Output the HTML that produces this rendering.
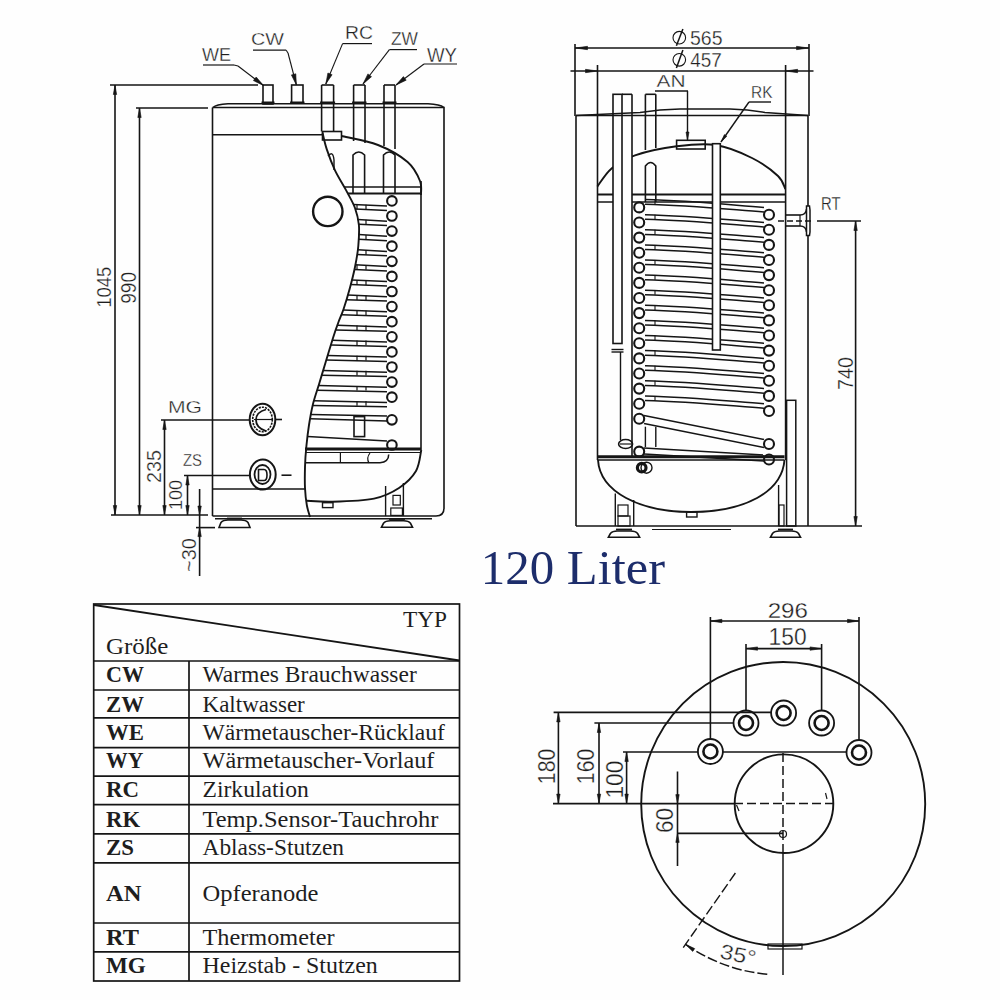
<!DOCTYPE html>
<html><head><meta charset="utf-8"><style>
html,body{margin:0;padding:0;background:#fff;width:1000px;height:1000px;overflow:hidden}
svg{display:block}
</style></head><body>
<svg width="1000" height="1000" viewBox="0 0 1000 1000" stroke-linecap="butt">
<rect width="1000" height="1000" fill="#fefefe"/>
<line x1="110" y1="85" x2="258" y2="85" stroke="#151515" stroke-width="1.6"/>
<line x1="115" y1="85" x2="115" y2="515" stroke="#151515" stroke-width="1.6"/>
<path d="M115,85.5 L116.7,94.5 L113.3,94.5 Z" fill="#151515" stroke="#151515" stroke-width="0.6"/>
<path d="M115,514.5 L113.3,505.5 L116.7,505.5 Z" fill="#151515" stroke="#151515" stroke-width="0.6"/>
<line x1="136" y1="108" x2="208" y2="108" stroke="#151515" stroke-width="1.6"/>
<line x1="139.5" y1="108" x2="139.5" y2="515" stroke="#151515" stroke-width="1.6"/>
<path d="M139.5,108.5 L141.2,117.5 L137.8,117.5 Z" fill="#151515" stroke="#151515" stroke-width="0.6"/>
<path d="M139.5,514.5 L137.8,505.5 L141.2,505.5 Z" fill="#151515" stroke="#151515" stroke-width="0.6"/>
<line x1="111" y1="515" x2="208" y2="515" stroke="#151515" stroke-width="1.6"/>
<line x1="161" y1="420" x2="250" y2="420" stroke="#151515" stroke-width="1.6"/>
<line x1="164.5" y1="420" x2="164.5" y2="515" stroke="#151515" stroke-width="1.6"/>
<path d="M164.5,420.5 L166.2,429.5 L162.8,429.5 Z" fill="#151515" stroke="#151515" stroke-width="0.6"/>
<path d="M164.5,514.5 L162.8,505.5 L166.2,505.5 Z" fill="#151515" stroke="#151515" stroke-width="0.6"/>
<line x1="184" y1="475.5" x2="250" y2="475.5" stroke="#151515" stroke-width="1.6"/>
<line x1="187.5" y1="475.5" x2="187.5" y2="515" stroke="#151515" stroke-width="1.6"/>
<path d="M187.5,476 L189.2,485 L185.8,485 Z" fill="#151515" stroke="#151515" stroke-width="0.6"/>
<path d="M187.5,514.5 L185.8,505.5 L189.2,505.5 Z" fill="#151515" stroke="#151515" stroke-width="0.6"/>
<line x1="199.6" y1="489" x2="199.6" y2="576" stroke="#151515" stroke-width="1.6"/>
<path d="M199.6,515 L197.9,506 L201.3,506 Z" fill="#151515" stroke="#151515" stroke-width="0.6"/>
<path d="M199.6,527.6 L201.3,536.6 L197.9,536.6 Z" fill="#151515" stroke="#151515" stroke-width="0.6"/>
<line x1="196" y1="527.6" x2="215" y2="527.6" stroke="#151515" stroke-width="1.6"/>
<line x1="275.5" y1="419.5" x2="282" y2="419.5" stroke="#151515" stroke-width="1.6"/>
<line x1="281.5" y1="475.2" x2="291.5" y2="475.2" stroke="#151515" stroke-width="1.6"/>
<text transform="translate(110.8,307.8) rotate(-90)" x="0" y="0" font-family='"Liberation Sans", sans-serif' font-size="20.1" fill="#1e1e1e" stroke="#fefefe" stroke-width="0.3" textLength="41.2" lengthAdjust="spacingAndGlyphs">1045</text>
<text transform="translate(136.4,303.8) rotate(-90)" x="0" y="0" font-family='"Liberation Sans", sans-serif' font-size="21.5" fill="#1e1e1e" stroke="#fefefe" stroke-width="0.3" textLength="31.8" lengthAdjust="spacingAndGlyphs">990</text>
<text transform="translate(161,483) rotate(-90)" x="0" y="0" font-family='"Liberation Sans", sans-serif' font-size="19.6" fill="#1e1e1e" stroke="#fefefe" stroke-width="0.3" textLength="33" lengthAdjust="spacingAndGlyphs">235</text>
<text transform="translate(182,510) rotate(-90)" x="0" y="0" font-family='"Liberation Sans", sans-serif' font-size="18.2" fill="#1e1e1e" stroke="#fefefe" stroke-width="0.3" textLength="30" lengthAdjust="spacingAndGlyphs">100</text>
<text transform="translate(196,572) rotate(-90)" x="0" y="0" font-family='"Liberation Sans", sans-serif' font-size="19.6" fill="#1e1e1e" stroke="#fefefe" stroke-width="0.3" textLength="34" lengthAdjust="spacingAndGlyphs">~30</text>
<text x="168" y="413" font-family='"Liberation Sans", sans-serif' font-size="16.8" font-weight="normal" fill="#1e1e1e" textLength="34" lengthAdjust="spacingAndGlyphs" stroke="#fefefe" stroke-width="0.3">MG</text>
<text x="183" y="466" font-family='"Liberation Sans", sans-serif' font-size="16.8" font-weight="normal" fill="#1e1e1e" textLength="19" lengthAdjust="spacingAndGlyphs" stroke="#fefefe" stroke-width="0.3">ZS</text>
<text x="202" y="61" font-family='"Liberation Sans", sans-serif' font-size="18.2" font-weight="normal" fill="#1e1e1e" textLength="29" lengthAdjust="spacingAndGlyphs" stroke="#fefefe" stroke-width="0.3">WE</text>
<text x="251" y="45" font-family='"Liberation Sans", sans-serif' font-size="16.8" font-weight="normal" fill="#1e1e1e" textLength="33" lengthAdjust="spacingAndGlyphs" stroke="#fefefe" stroke-width="0.3">CW</text>
<text x="345" y="39" font-family='"Liberation Sans", sans-serif' font-size="18.2" font-weight="normal" fill="#1e1e1e" textLength="28" lengthAdjust="spacingAndGlyphs" stroke="#fefefe" stroke-width="0.3">RC</text>
<text x="391" y="45" font-family='"Liberation Sans", sans-serif' font-size="18.2" font-weight="normal" fill="#1e1e1e" textLength="27" lengthAdjust="spacingAndGlyphs" stroke="#fefefe" stroke-width="0.3">ZW</text>
<text x="427" y="62" font-family='"Liberation Sans", sans-serif' font-size="19.6" font-weight="normal" fill="#1e1e1e" textLength="30" lengthAdjust="spacingAndGlyphs" stroke="#fefefe" stroke-width="0.3">WY</text>
<line x1="203" y1="65" x2="234" y2="65" stroke="#151515" stroke-width="1.2"/>
<line x1="234" y1="65" x2="238" y2="66" stroke="#151515" stroke-width="1.1"/>
<line x1="238" y1="66" x2="263.5" y2="85.5" stroke="#151515" stroke-width="1.1"/>
<path d="M263.5,85.5 L253.4,80.6 L256.2,77 Z" fill="#151515" stroke="#151515" stroke-width="0.6"/>
<line x1="253" y1="50.2" x2="286.2" y2="50.2" stroke="#151515" stroke-width="1.2"/>
<line x1="286.2" y1="50.2" x2="288" y2="53" stroke="#151515" stroke-width="1.1"/>
<line x1="288" y1="53" x2="296.4" y2="85" stroke="#151515" stroke-width="1.1"/>
<path d="M296.4,85 L291.4,74.9 L295.8,73.8 Z" fill="#151515" stroke="#151515" stroke-width="0.6"/>
<line x1="342.6" y1="43.6" x2="372" y2="43.6" stroke="#151515" stroke-width="1.2"/>
<line x1="342.6" y1="43.6" x2="342.6" y2="43.6" stroke="#151515" stroke-width="1.1"/>
<line x1="342.6" y1="43.6" x2="325.8" y2="84" stroke="#151515" stroke-width="1.1"/>
<path d="M325.8,84 L327.9,73 L332.1,74.7 Z" fill="#151515" stroke="#151515" stroke-width="0.6"/>
<line x1="389.4" y1="49.6" x2="417" y2="49.6" stroke="#151515" stroke-width="1.2"/>
<line x1="389.4" y1="49.6" x2="389.4" y2="49.6" stroke="#151515" stroke-width="1.1"/>
<line x1="389.4" y1="49.6" x2="363" y2="84" stroke="#151515" stroke-width="1.1"/>
<path d="M363,84 L367.9,73.9 L371.5,76.7 Z" fill="#151515" stroke="#151515" stroke-width="0.6"/>
<line x1="424" y1="64" x2="457" y2="64" stroke="#151515" stroke-width="1.2"/>
<line x1="424" y1="64" x2="424" y2="64" stroke="#151515" stroke-width="1.1"/>
<line x1="424" y1="64" x2="396" y2="85" stroke="#151515" stroke-width="1.1"/>
<path d="M396,85 L403.4,76.6 L406.2,80.2 Z" fill="#151515" stroke="#151515" stroke-width="0.6"/>
<rect x="263" y="85" width="10" height="19" fill="none" stroke="#151515" stroke-width="1.6"/>
<rect x="291.6" y="85" width="11.4" height="18" fill="none" stroke="#151515" stroke-width="1.6"/>
<line x1="321.6" y1="85" x2="333.6" y2="85" stroke="#151515" stroke-width="1.6"/>
<line x1="321.6" y1="85" x2="321.6" y2="131.5" stroke="#151515" stroke-width="1.6"/>
<line x1="333.6" y1="85" x2="333.6" y2="131.5" stroke="#151515" stroke-width="1.6"/>
<line x1="353.6" y1="85" x2="365" y2="85" stroke="#151515" stroke-width="1.6"/>
<line x1="353.6" y1="85" x2="353.6" y2="141" stroke="#151515" stroke-width="1.6"/>
<line x1="365" y1="85" x2="365" y2="143" stroke="#151515" stroke-width="1.6"/>
<line x1="384" y1="85" x2="395" y2="85" stroke="#151515" stroke-width="1.6"/>
<line x1="384" y1="85" x2="384" y2="146" stroke="#151515" stroke-width="1.6"/>
<line x1="395" y1="85" x2="395" y2="149" stroke="#151515" stroke-width="1.6"/>
<line x1="212.5" y1="107.5" x2="212.5" y2="516" stroke="#151515" stroke-width="1.6"/>
<path d="M212.5,107.5 L444,107.5 L444,508 Q444,516 436,516 L212.5,516" fill="none" stroke="#151515" stroke-width="1.6"/>
<path d="M213,107.5 Q216,104.5 228,103.8 L428,103.8 Q440,104.3 444,107.5" fill="none" stroke="#151515" stroke-width="1.4"/>
<line x1="261.5" y1="102.6" x2="274.5" y2="102.6" stroke="#151515" stroke-width="2.2"/>
<line x1="290.1" y1="102.6" x2="304.5" y2="102.6" stroke="#151515" stroke-width="2.2"/>
<line x1="320.1" y1="102.6" x2="335.1" y2="102.6" stroke="#151515" stroke-width="2.2"/>
<line x1="352.1" y1="102.6" x2="366.5" y2="102.6" stroke="#151515" stroke-width="2.2"/>
<line x1="382.5" y1="102.6" x2="396.5" y2="102.6" stroke="#151515" stroke-width="2.2"/>
<line x1="212.5" y1="134.7" x2="322.5" y2="134.7" stroke="#151515" stroke-width="1.6"/>
<rect x="322.5" y="131.5" width="19" height="8.5" fill="none" stroke="#151515" stroke-width="1.6"/>
<path d="M322.5,132.6 C323.2,135.4 324.7,143.1 326.8,149.4 C328.9,155.7 331.7,163.4 335,170.4 C338.3,177.4 343.4,185.1 346.7,191.4 C350,197.7 353,202.4 355,208 C357,213.6 358.3,218.7 358.9,225 C359.4,231.3 358.9,239 358.3,246 C357.7,253 356.4,260 355,267 C353.6,274 351.8,281 349.9,288 C348,295 345.5,303.3 343.6,309 C341.7,314.7 340.3,317.2 338.5,322 C336.7,326.8 335.1,331.3 333,338 C330.9,344.7 328,354.5 325.7,362 C323.4,369.5 321.5,376 319.4,383 C317.3,390 314.7,397 313,404 C311.3,411 310.1,418 309,425 C307.9,432 307.1,439 306.4,446 C305.7,453 305.2,460 305,467 C304.8,474 304.7,481.7 305,488 C305.3,494.3 306,500.2 306.8,505 C307.6,509.8 309.5,515 310,517" fill="none" stroke="#151515" stroke-width="1.9"/>
<path d="M341.5,136 C347.6,137.5 367,140.7 378,145 C389,149.3 400.6,156 407.6,162 C414.6,168 417.8,175.5 420,181 C422.2,186.5 420.8,192.7 421,195" fill="none" stroke="#151515" stroke-width="1.9"/>
<line x1="421" y1="181" x2="421" y2="450" stroke="#151515" stroke-width="1.6"/>
<line x1="344.2" y1="187" x2="421" y2="187" stroke="#151515" stroke-width="1.6"/>
<line x1="347.8" y1="193.5" x2="421" y2="193.5" stroke="#151515" stroke-width="2"/>
<path d="M353,193 L353,155 Q358.8,149 364.6,155 L364.6,193" fill="none" stroke="#151515" stroke-width="1.6"/>
<path d="M383.5,193 L383.5,155 Q389.2,149 395,155 L395,193" fill="none" stroke="#151515" stroke-width="1.6"/>
<path d="M328,156 Q333,150 334,160 L334,170" fill="none" stroke="#151515" stroke-width="1.4"/>
<circle cx="327.8" cy="211.4" r="14.7" fill="none" stroke="#151515" stroke-width="2.4"/>
<circle cx="391.9" cy="200.9" r="4.8" fill="none" stroke="#151515" stroke-width="2.1"/>
<circle cx="391.9" cy="216" r="4.8" fill="none" stroke="#151515" stroke-width="2.1"/>
<circle cx="391.9" cy="231.1" r="4.8" fill="none" stroke="#151515" stroke-width="2.1"/>
<circle cx="391.9" cy="246.2" r="4.8" fill="none" stroke="#151515" stroke-width="2.1"/>
<circle cx="391.9" cy="261.3" r="4.8" fill="none" stroke="#151515" stroke-width="2.1"/>
<circle cx="391.9" cy="276.4" r="4.8" fill="none" stroke="#151515" stroke-width="2.1"/>
<circle cx="391.9" cy="291.5" r="4.8" fill="none" stroke="#151515" stroke-width="2.1"/>
<circle cx="391.9" cy="306.6" r="4.8" fill="none" stroke="#151515" stroke-width="2.1"/>
<circle cx="391.9" cy="321.7" r="4.8" fill="none" stroke="#151515" stroke-width="2.1"/>
<circle cx="391.9" cy="336.8" r="4.8" fill="none" stroke="#151515" stroke-width="2.1"/>
<circle cx="391.9" cy="351.9" r="4.8" fill="none" stroke="#151515" stroke-width="2.1"/>
<circle cx="391.9" cy="367" r="4.8" fill="none" stroke="#151515" stroke-width="2.1"/>
<circle cx="391.9" cy="382.1" r="4.8" fill="none" stroke="#151515" stroke-width="2.1"/>
<circle cx="391.9" cy="397.2" r="4.8" fill="none" stroke="#151515" stroke-width="2.1"/>
<circle cx="391.9" cy="419.8" r="4.8" fill="none" stroke="#151515" stroke-width="2.1"/>
<circle cx="391.9" cy="445" r="4.8" fill="none" stroke="#151515" stroke-width="2.1"/>
<line x1="311" y1="414.5" x2="387" y2="416" stroke="#151515" stroke-width="1.5"/>
<line x1="310.2" y1="418.7" x2="387" y2="421" stroke="#151515" stroke-width="1.5"/>
<line x1="307.6" y1="436.6" x2="387" y2="441" stroke="#151515" stroke-width="1.5"/>
<line x1="353.2" y1="204.4" x2="387" y2="206.1" stroke="#151515" stroke-width="1.5"/>
<line x1="355.3" y1="209.1" x2="387" y2="210.5" stroke="#151515" stroke-width="1.5"/>
<line x1="357" y1="204.7" x2="357" y2="209.4" stroke="#151515" stroke-width="1.2"/>
<line x1="366" y1="204.7" x2="366" y2="209.4" stroke="#151515" stroke-width="1.2"/>
<line x1="357.6" y1="219.5" x2="387" y2="221.2" stroke="#151515" stroke-width="1.5"/>
<line x1="358.7" y1="224.2" x2="387" y2="225.6" stroke="#151515" stroke-width="1.5"/>
<line x1="366" y1="219.8" x2="366" y2="224.5" stroke="#151515" stroke-width="1.2"/>
<line x1="358.6" y1="234.6" x2="387" y2="236.3" stroke="#151515" stroke-width="1.5"/>
<line x1="358.5" y1="239.3" x2="387" y2="240.7" stroke="#151515" stroke-width="1.5"/>
<line x1="366" y1="234.9" x2="366" y2="239.6" stroke="#151515" stroke-width="1.2"/>
<line x1="357.7" y1="249.7" x2="387" y2="251.4" stroke="#151515" stroke-width="1.5"/>
<line x1="357" y1="254.4" x2="387" y2="255.8" stroke="#151515" stroke-width="1.5"/>
<line x1="366" y1="250" x2="366" y2="254.7" stroke="#151515" stroke-width="1.2"/>
<line x1="355.3" y1="264.8" x2="387" y2="266.5" stroke="#151515" stroke-width="1.5"/>
<line x1="354.4" y1="269.5" x2="387" y2="270.9" stroke="#151515" stroke-width="1.5"/>
<line x1="357" y1="265.1" x2="357" y2="269.8" stroke="#151515" stroke-width="1.2"/>
<line x1="366" y1="265.1" x2="366" y2="269.8" stroke="#151515" stroke-width="1.2"/>
<line x1="351.9" y1="279.9" x2="387" y2="281.6" stroke="#151515" stroke-width="1.5"/>
<line x1="350.7" y1="284.6" x2="387" y2="286" stroke="#151515" stroke-width="1.5"/>
<line x1="357" y1="280.2" x2="357" y2="284.9" stroke="#151515" stroke-width="1.2"/>
<line x1="366" y1="280.2" x2="366" y2="284.9" stroke="#151515" stroke-width="1.2"/>
<line x1="347.8" y1="295" x2="387" y2="296.7" stroke="#151515" stroke-width="1.5"/>
<line x1="346.4" y1="299.7" x2="387" y2="301.1" stroke="#151515" stroke-width="1.5"/>
<line x1="357" y1="295.3" x2="357" y2="300" stroke="#151515" stroke-width="1.2"/>
<line x1="366" y1="295.3" x2="366" y2="300" stroke="#151515" stroke-width="1.2"/>
<line x1="343.2" y1="310.1" x2="387" y2="311.8" stroke="#151515" stroke-width="1.5"/>
<line x1="341.3" y1="314.8" x2="387" y2="316.2" stroke="#151515" stroke-width="1.5"/>
<line x1="357" y1="310.4" x2="357" y2="315.1" stroke="#151515" stroke-width="1.2"/>
<line x1="366" y1="310.4" x2="366" y2="315.1" stroke="#151515" stroke-width="1.2"/>
<line x1="337.4" y1="325.2" x2="387" y2="326.9" stroke="#151515" stroke-width="1.5"/>
<line x1="335.8" y1="329.9" x2="387" y2="331.3" stroke="#151515" stroke-width="1.5"/>
<line x1="357" y1="325.5" x2="357" y2="330.2" stroke="#151515" stroke-width="1.2"/>
<line x1="366" y1="325.5" x2="366" y2="330.2" stroke="#151515" stroke-width="1.2"/>
<line x1="332.3" y1="340.3" x2="387" y2="342" stroke="#151515" stroke-width="1.5"/>
<line x1="330.9" y1="345" x2="387" y2="346.4" stroke="#151515" stroke-width="1.5"/>
<line x1="357" y1="340.6" x2="357" y2="345.3" stroke="#151515" stroke-width="1.2"/>
<line x1="366" y1="340.6" x2="366" y2="345.3" stroke="#151515" stroke-width="1.2"/>
<line x1="327.7" y1="355.4" x2="387" y2="357.1" stroke="#151515" stroke-width="1.5"/>
<line x1="326.3" y1="360.1" x2="387" y2="361.5" stroke="#151515" stroke-width="1.5"/>
<line x1="357" y1="355.7" x2="357" y2="360.4" stroke="#151515" stroke-width="1.2"/>
<line x1="366" y1="355.7" x2="366" y2="360.4" stroke="#151515" stroke-width="1.2"/>
<line x1="323.1" y1="370.5" x2="387" y2="372.2" stroke="#151515" stroke-width="1.5"/>
<line x1="321.7" y1="375.2" x2="387" y2="376.6" stroke="#151515" stroke-width="1.5"/>
<line x1="357" y1="370.8" x2="357" y2="375.5" stroke="#151515" stroke-width="1.2"/>
<line x1="366" y1="370.8" x2="366" y2="375.5" stroke="#151515" stroke-width="1.2"/>
<line x1="318.6" y1="385.6" x2="387" y2="387.3" stroke="#151515" stroke-width="1.5"/>
<line x1="317.2" y1="390.3" x2="387" y2="391.7" stroke="#151515" stroke-width="1.5"/>
<line x1="357" y1="385.9" x2="357" y2="390.6" stroke="#151515" stroke-width="1.2"/>
<line x1="366" y1="385.9" x2="366" y2="390.6" stroke="#151515" stroke-width="1.2"/>
<line x1="314" y1="400.7" x2="387" y2="402.4" stroke="#151515" stroke-width="1.5"/>
<line x1="312.7" y1="405.4" x2="387" y2="406.8" stroke="#151515" stroke-width="1.5"/>
<line x1="357" y1="401" x2="357" y2="405.7" stroke="#151515" stroke-width="1.2"/>
<line x1="366" y1="401" x2="366" y2="405.7" stroke="#151515" stroke-width="1.2"/>
<rect x="354" y="416.6" width="10.6" height="20" fill="none" stroke="#151515" stroke-width="1.6"/>
<line x1="305" y1="449" x2="421" y2="449" stroke="#151515" stroke-width="2.8"/>
<line x1="305" y1="452.5" x2="421" y2="452.5" stroke="#151515" stroke-width="1.2"/>
<path d="M305,462.8 L380,462.8 Q388.7,462 388.7,454.5" fill="none" stroke="#151515" stroke-width="1.5"/>
<line x1="340.4" y1="453" x2="340.4" y2="463" stroke="#151515" stroke-width="1.2"/>
<path d="M370,453 Q366,458 369,463" fill="none" stroke="#151515" stroke-width="1.2"/>
<path d="M421.3,450 C420.4,453.5 419.7,464.7 416,471 C412.3,477.3 406,483.4 399,488 C392,492.6 385.2,496.3 374,498.6 C362.8,500.9 343.2,501.4 332,501.7 C320.8,502 311,500.9 306.8,500.7" fill="none" stroke="#151515" stroke-width="1.9"/>
<rect x="322.5" y="502.7" width="10.5" height="4.9" fill="none" stroke="#151515" stroke-width="1.4"/>
<line x1="212.5" y1="489" x2="305" y2="489" stroke="#151515" stroke-width="1.6"/>
<path d="M215,518.8 L432,518.8" fill="none" stroke="#151515" stroke-width="1.4"/>
<line x1="385.6" y1="486" x2="385.6" y2="516" stroke="#151515" stroke-width="1.4"/>
<line x1="403.4" y1="483" x2="403.4" y2="516" stroke="#151515" stroke-width="1.4"/>
<rect x="393" y="495.4" width="7.3" height="9.6" fill="none" stroke="#151515" stroke-width="1.2"/>
<rect x="390.8" y="508" width="11.6" height="7.4" fill="none" stroke="#151515" stroke-width="1.2"/>
<path d="M219,527.5 L221.0,522.5 Q223.0,520 228.0,520 L241.0,520 Q246.0,520 248.0,522.5 L250,527.5 Z" fill="none" stroke="#151515" stroke-width="1.6"/>
<line x1="227" y1="518.5" x2="242" y2="518.5" stroke="#151515" stroke-width="1.8"/>
<path d="M381.5,527.2 L383.5,523.3 Q385.5,520.8 390.5,520.8 L403.5,520.8 Q408.5,520.8 410.5,523.3 L412.5,527.2 Z" fill="none" stroke="#151515" stroke-width="1.6"/>
<line x1="389" y1="519" x2="405" y2="519" stroke="#151515" stroke-width="1.8"/>
<ellipse cx="262.5" cy="419.5" rx="12.8" ry="15.7" fill="none" stroke="#151515" stroke-width="2"/>
<ellipse cx="262.5" cy="419.5" rx="9.8" ry="12.3" fill="none" stroke="#151515" stroke-width="1.6" stroke-dasharray="2.2,1"/>
<path d="M266,409.5 Q256,412 256,420 Q256,428 266,431" fill="none" stroke="#151515" stroke-width="1.8"/>
<line x1="254" y1="419.5" x2="273" y2="419.5" stroke="#151515" stroke-width="1.2"/>
<ellipse cx="262.8" cy="474.5" rx="12.9" ry="15" fill="none" stroke="#151515" stroke-width="2"/>
<ellipse cx="262.5" cy="474.5" rx="8" ry="9.5" fill="none" stroke="#151515" stroke-width="1.8"/>
<path d="M258.5,469.5 L264,469.5 Q267,469.5 267,475 Q267,480.5 264,480.5 L258.5,480.5 Z" fill="none" stroke="#151515" stroke-width="1.6"/>
<line x1="575" y1="44" x2="575" y2="116" stroke="#151515" stroke-width="1.6"/>
<line x1="809" y1="44" x2="809" y2="116" stroke="#151515" stroke-width="1.6"/>
<line x1="575" y1="48" x2="809" y2="48" stroke="#151515" stroke-width="1.6"/>
<path d="M575.5,48 L587.5,46.3 L587.5,49.7 Z" fill="#151515" stroke="#151515" stroke-width="0.6"/>
<path d="M808.5,48 L796.5,49.7 L796.5,46.3 Z" fill="#151515" stroke="#151515" stroke-width="0.6"/>
<line x1="570.5" y1="71" x2="813.5" y2="71" stroke="#151515" stroke-width="1.6"/>
<path d="M597.5,71 L585.5,72.7 L585.5,69.3 Z" fill="#151515" stroke="#151515" stroke-width="0.6"/>
<path d="M785.6,71 L797.6,69.3 L797.6,72.7 Z" fill="#151515" stroke="#151515" stroke-width="0.6"/>
<text x="690" y="44.5" font-family='"Liberation Sans", sans-serif' font-size="20" font-weight="normal" fill="#1e1e1e" textLength="32.6" lengthAdjust="spacingAndGlyphs" stroke="#fefefe" stroke-width="0.3">565</text>
<circle cx="679.3" cy="37.7" r="6.3" fill="none" stroke="#151515" stroke-width="1.1"/>
<line x1="676.4" y1="45.8" x2="682.9" y2="28.9" stroke="#151515" stroke-width="1.5"/>
<text x="690.3" y="66.6" font-family='"Liberation Sans", sans-serif' font-size="20" font-weight="normal" fill="#1e1e1e" textLength="31.6" lengthAdjust="spacingAndGlyphs" stroke="#fefefe" stroke-width="0.3">457</text>
<circle cx="679.3" cy="59.8" r="6.3" fill="none" stroke="#151515" stroke-width="1.1"/>
<line x1="676.4" y1="67.9" x2="682.9" y2="50" stroke="#151515" stroke-width="1.5"/>
<text x="656.5" y="87" font-family='"Liberation Sans", sans-serif' font-size="16.8" font-weight="normal" fill="#1e1e1e" textLength="29" lengthAdjust="spacingAndGlyphs" stroke="#fefefe" stroke-width="0.3">AN</text>
<text x="751" y="97.5" font-family='"Liberation Sans", sans-serif' font-size="16.8" font-weight="normal" fill="#1e1e1e" textLength="21.5" lengthAdjust="spacingAndGlyphs" stroke="#fefefe" stroke-width="0.3">RK</text>
<text x="821" y="210" font-family='"Liberation Sans", sans-serif' font-size="18.9" font-weight="normal" fill="#1e1e1e" textLength="19.5" lengthAdjust="spacingAndGlyphs" stroke="#fefefe" stroke-width="0.3">RT</text>
<line x1="655" y1="91" x2="688" y2="91" stroke="#151515" stroke-width="1.4"/>
<line x1="687.5" y1="91" x2="687.5" y2="140" stroke="#151515" stroke-width="1.4"/>
<path d="M687.5,140 L686,132 L689,132 Z" fill="#151515" stroke="#151515" stroke-width="0.6"/>
<line x1="749" y1="102" x2="771" y2="102" stroke="#151515" stroke-width="1.4"/>
<line x1="749" y1="102" x2="721" y2="142" stroke="#151515" stroke-width="1.4"/>
<path d="M721,142 L724.4,134.6 L726.8,136.3 Z" fill="#151515" stroke="#151515" stroke-width="0.6"/>
<line x1="576" y1="115.5" x2="576" y2="526" stroke="#151515" stroke-width="1.6"/>
<line x1="808" y1="115.5" x2="808" y2="526" stroke="#151515" stroke-width="1.6"/>
<line x1="576" y1="526" x2="808" y2="526" stroke="#151515" stroke-width="1.6"/>
<line x1="597.5" y1="65" x2="597.5" y2="460" stroke="#151515" stroke-width="1.6"/>
<line x1="785.6" y1="65" x2="785.6" y2="460" stroke="#151515" stroke-width="1.6"/>
<path d="M597.3,186.6 C599.7,183.6 605.3,173.6 611.6,168.4 C617.9,163.2 624.2,159.1 635,155.4 C645.8,151.7 663.2,148 676.6,146.3 C690,144.6 703,143.1 715.6,145 C728.2,146.9 741.6,152.8 752,158 C762.4,163.2 772.5,170.8 778,176 C783.5,181.2 784.1,186.8 785.3,189" fill="none" stroke="#151515" stroke-width="1.9"/>
<line x1="597.5" y1="194.4" x2="785.6" y2="194.4" stroke="#151515" stroke-width="2"/>
<line x1="597.5" y1="202" x2="785.6" y2="202" stroke="#151515" stroke-width="1.6"/>
<path d="M621,94.3 L632,94.3 L632,440 L620.5,440 Z" fill="#fefefe" stroke="none"/>
<line x1="622" y1="94.3" x2="632" y2="94.3" stroke="#151515" stroke-width="1.6"/>
<line x1="632" y1="94.3" x2="632" y2="456" stroke="#151515" stroke-width="1.6"/>
<rect x="613" y="94.3" width="9" height="249.2" fill="#fefefe" stroke="#151515" stroke-width="1.6"/>
<line x1="576" y1="115.5" x2="808" y2="115.5" stroke="#151515" stroke-width="1.6"/>
<path d="M576,115.5 L640,112.5 Q660,109.2 680,109 L730,109 Q748,109.5 765,112.5 L808,115.5" fill="none" stroke="#151515" stroke-width="1.4"/>
<line x1="645.4" y1="94.3" x2="655.8" y2="94.3" stroke="#151515" stroke-width="1.6"/>
<line x1="645.4" y1="94.3" x2="645.4" y2="150" stroke="#151515" stroke-width="1.6"/>
<line x1="655.8" y1="94.3" x2="655.8" y2="148" stroke="#151515" stroke-width="1.6"/>
<path d="M645.4,202 L645.4,166 Q650.6,159 655.8,166 L655.8,202" fill="none" stroke="#151515" stroke-width="1.6"/>
<rect x="676.6" y="140.3" width="28.6" height="8.7" fill="none" stroke="#151515" stroke-width="1.6"/>
<line x1="611.5" y1="349.5" x2="623.5" y2="349.5" stroke="#151515" stroke-width="1.4"/>
<line x1="611.5" y1="352" x2="623.5" y2="352" stroke="#151515" stroke-width="1.4"/>
<line x1="620.5" y1="352" x2="620.5" y2="440" stroke="#151515" stroke-width="1.4"/>
<line x1="645.4" y1="426.7" x2="645.4" y2="447" stroke="#151515" stroke-width="1.4"/>
<line x1="655.8" y1="426.7" x2="655.8" y2="447" stroke="#151515" stroke-width="1.4"/>
<ellipse cx="625.6" cy="444" rx="7" ry="4.5" fill="none" stroke="#151515" stroke-width="1.6"/>
<line x1="620" y1="444" x2="631" y2="444" stroke="#151515" stroke-width="1.2"/>
<circle cx="639.2" cy="207.4" r="5" fill="none" stroke="#151515" stroke-width="2.1"/>
<circle cx="639.2" cy="222.5" r="5" fill="none" stroke="#151515" stroke-width="2.1"/>
<circle cx="639.2" cy="237.6" r="5" fill="none" stroke="#151515" stroke-width="2.1"/>
<circle cx="639.2" cy="252.7" r="5" fill="none" stroke="#151515" stroke-width="2.1"/>
<circle cx="639.2" cy="267.8" r="5" fill="none" stroke="#151515" stroke-width="2.1"/>
<circle cx="639.2" cy="282.9" r="5" fill="none" stroke="#151515" stroke-width="2.1"/>
<circle cx="639.2" cy="298" r="5" fill="none" stroke="#151515" stroke-width="2.1"/>
<circle cx="639.2" cy="313.1" r="5" fill="none" stroke="#151515" stroke-width="2.1"/>
<circle cx="639.2" cy="328.2" r="5" fill="none" stroke="#151515" stroke-width="2.1"/>
<circle cx="639.2" cy="343.3" r="5" fill="none" stroke="#151515" stroke-width="2.1"/>
<circle cx="639.2" cy="358.4" r="5" fill="none" stroke="#151515" stroke-width="2.1"/>
<circle cx="639.2" cy="373.5" r="5" fill="none" stroke="#151515" stroke-width="2.1"/>
<circle cx="639.2" cy="388.6" r="5" fill="none" stroke="#151515" stroke-width="2.1"/>
<circle cx="639.2" cy="403.7" r="5" fill="none" stroke="#151515" stroke-width="2.1"/>
<circle cx="639.2" cy="418.8" r="5" fill="none" stroke="#151515" stroke-width="2.1"/>
<circle cx="639.2" cy="451.6" r="5" fill="none" stroke="#151515" stroke-width="2.1"/>
<circle cx="769" cy="214.7" r="5" fill="none" stroke="#151515" stroke-width="2.1"/>
<circle cx="769" cy="229.8" r="5" fill="none" stroke="#151515" stroke-width="2.1"/>
<circle cx="769" cy="244.9" r="5" fill="none" stroke="#151515" stroke-width="2.1"/>
<circle cx="769" cy="260" r="5" fill="none" stroke="#151515" stroke-width="2.1"/>
<circle cx="769" cy="275.1" r="5" fill="none" stroke="#151515" stroke-width="2.1"/>
<circle cx="769" cy="290.2" r="5" fill="none" stroke="#151515" stroke-width="2.1"/>
<circle cx="769" cy="305.3" r="5" fill="none" stroke="#151515" stroke-width="2.1"/>
<circle cx="769" cy="320.4" r="5" fill="none" stroke="#151515" stroke-width="2.1"/>
<circle cx="769" cy="335.5" r="5" fill="none" stroke="#151515" stroke-width="2.1"/>
<circle cx="769" cy="350.6" r="5" fill="none" stroke="#151515" stroke-width="2.1"/>
<circle cx="769" cy="365.7" r="5" fill="none" stroke="#151515" stroke-width="2.1"/>
<circle cx="769" cy="380.8" r="5" fill="none" stroke="#151515" stroke-width="2.1"/>
<circle cx="769" cy="395.9" r="5" fill="none" stroke="#151515" stroke-width="2.1"/>
<circle cx="769" cy="411" r="5" fill="none" stroke="#151515" stroke-width="2.1"/>
<circle cx="769" cy="444" r="5" fill="none" stroke="#151515" stroke-width="2.1"/>
<circle cx="769" cy="459.5" r="5" fill="none" stroke="#151515" stroke-width="2.1"/>
<path d="M645,199.6 C690,200.6 725,204.4 764,207.4" fill="none" stroke="#151515" stroke-width="1.5"/>
<path d="M645,204.2 C690,205.2 725,209 764,212" fill="none" stroke="#151515" stroke-width="1.5"/>
<line x1="655" y1="199.6" x2="655" y2="204.2" stroke="#151515" stroke-width="1.1"/>
<path d="M645,214.7 C690,215.7 725,219.5 764,222.5" fill="none" stroke="#151515" stroke-width="1.5"/>
<path d="M645,219.3 C690,220.3 725,224.1 764,227.1" fill="none" stroke="#151515" stroke-width="1.5"/>
<line x1="655" y1="214.7" x2="655" y2="219.3" stroke="#151515" stroke-width="1.1"/>
<path d="M645,229.8 C690,230.8 725,234.6 764,237.6" fill="none" stroke="#151515" stroke-width="1.5"/>
<path d="M645,234.4 C690,235.4 725,239.2 764,242.2" fill="none" stroke="#151515" stroke-width="1.5"/>
<line x1="655" y1="229.8" x2="655" y2="234.4" stroke="#151515" stroke-width="1.1"/>
<path d="M645,244.9 C690,245.9 725,249.7 764,252.7" fill="none" stroke="#151515" stroke-width="1.5"/>
<path d="M645,249.5 C690,250.5 725,254.3 764,257.3" fill="none" stroke="#151515" stroke-width="1.5"/>
<line x1="655" y1="244.9" x2="655" y2="249.5" stroke="#151515" stroke-width="1.1"/>
<path d="M645,260 C690,261 725,264.8 764,267.8" fill="none" stroke="#151515" stroke-width="1.5"/>
<path d="M645,264.6 C690,265.6 725,269.4 764,272.4" fill="none" stroke="#151515" stroke-width="1.5"/>
<line x1="655" y1="260" x2="655" y2="264.6" stroke="#151515" stroke-width="1.1"/>
<path d="M645,275.1 C690,276.1 725,279.9 764,282.9" fill="none" stroke="#151515" stroke-width="1.5"/>
<path d="M645,279.7 C690,280.7 725,284.5 764,287.5" fill="none" stroke="#151515" stroke-width="1.5"/>
<line x1="655" y1="275.1" x2="655" y2="279.7" stroke="#151515" stroke-width="1.1"/>
<path d="M645,290.2 C690,291.2 725,295 764,298" fill="none" stroke="#151515" stroke-width="1.5"/>
<path d="M645,294.8 C690,295.8 725,299.6 764,302.6" fill="none" stroke="#151515" stroke-width="1.5"/>
<line x1="655" y1="290.2" x2="655" y2="294.8" stroke="#151515" stroke-width="1.1"/>
<path d="M645,305.3 C690,306.3 725,310.1 764,313.1" fill="none" stroke="#151515" stroke-width="1.5"/>
<path d="M645,309.9 C690,310.9 725,314.7 764,317.7" fill="none" stroke="#151515" stroke-width="1.5"/>
<line x1="655" y1="305.3" x2="655" y2="309.9" stroke="#151515" stroke-width="1.1"/>
<path d="M645,320.4 C690,321.4 725,325.2 764,328.2" fill="none" stroke="#151515" stroke-width="1.5"/>
<path d="M645,325 C690,326 725,329.8 764,332.8" fill="none" stroke="#151515" stroke-width="1.5"/>
<line x1="655" y1="320.4" x2="655" y2="325" stroke="#151515" stroke-width="1.1"/>
<path d="M645,335.5 C690,336.5 725,340.3 764,343.3" fill="none" stroke="#151515" stroke-width="1.5"/>
<path d="M645,340.1 C690,341.1 725,344.9 764,347.9" fill="none" stroke="#151515" stroke-width="1.5"/>
<line x1="655" y1="335.5" x2="655" y2="340.1" stroke="#151515" stroke-width="1.1"/>
<path d="M645,350.6 C690,351.6 725,355.4 764,358.4" fill="none" stroke="#151515" stroke-width="1.5"/>
<path d="M645,355.2 C690,356.2 725,360 764,363" fill="none" stroke="#151515" stroke-width="1.5"/>
<line x1="655" y1="350.6" x2="655" y2="355.2" stroke="#151515" stroke-width="1.1"/>
<path d="M645,365.7 C690,366.7 725,370.5 764,373.5" fill="none" stroke="#151515" stroke-width="1.5"/>
<path d="M645,370.3 C690,371.3 725,375.1 764,378.1" fill="none" stroke="#151515" stroke-width="1.5"/>
<line x1="655" y1="365.7" x2="655" y2="370.3" stroke="#151515" stroke-width="1.1"/>
<path d="M645,380.8 C690,381.8 725,385.6 764,388.6" fill="none" stroke="#151515" stroke-width="1.5"/>
<path d="M645,385.4 C690,386.4 725,390.2 764,393.2" fill="none" stroke="#151515" stroke-width="1.5"/>
<line x1="655" y1="380.8" x2="655" y2="385.4" stroke="#151515" stroke-width="1.1"/>
<path d="M645,395.9 C690,396.9 725,400.7 764,403.7" fill="none" stroke="#151515" stroke-width="1.5"/>
<path d="M645,400.5 C690,401.5 725,405.3 764,408.3" fill="none" stroke="#151515" stroke-width="1.5"/>
<line x1="655" y1="395.9" x2="655" y2="400.5" stroke="#151515" stroke-width="1.1"/>
<line x1="644" y1="415.5" x2="764" y2="439.5" stroke="#151515" stroke-width="1.5"/>
<line x1="644" y1="423.5" x2="764" y2="447.5" stroke="#151515" stroke-width="1.5"/>
<line x1="644" y1="448" x2="764" y2="455" stroke="#151515" stroke-width="1.5"/>
<line x1="644" y1="454" x2="764" y2="461" stroke="#151515" stroke-width="1.5"/>
<circle cx="641.7" cy="467.7" r="4.3" fill="none" stroke="#151515" stroke-width="3.2"/>
<circle cx="646.5" cy="467.7" r="5.5" fill="none" stroke="#151515" stroke-width="1.4"/>
<rect x="712.5" y="143.7" width="7.8" height="206.3" fill="#fefefe" stroke="#151515" stroke-width="1.6"/>
<line x1="598" y1="456.7" x2="784.5" y2="456.7" stroke="#151515" stroke-width="3"/>
<line x1="598" y1="460" x2="784.5" y2="460" stroke="#151515" stroke-width="1.4"/>
<path d="M598,460 C600,492 640,512 691,512 C745,512 782,492 784.5,460" fill="none" stroke="#151515" stroke-width="1.9"/>
<rect x="686.6" y="512" width="10.4" height="5" fill="none" stroke="#151515" stroke-width="1.4"/>
<line x1="615.3" y1="493.5" x2="615.3" y2="526" stroke="#151515" stroke-width="1.4"/>
<line x1="633.7" y1="500" x2="633.7" y2="526" stroke="#151515" stroke-width="1.4"/>
<line x1="778.6" y1="485" x2="778.6" y2="526" stroke="#151515" stroke-width="1.4"/>
<rect x="618" y="505" width="10" height="11" fill="none" stroke="#151515" stroke-width="1.2"/>
<rect x="618" y="516" width="12" height="10" fill="none" stroke="#151515" stroke-width="1.2"/>
<rect x="779" y="505" width="5" height="21" fill="none" stroke="#151515" stroke-width="1.2"/>
<rect x="786.6" y="400.3" width="9.2" height="125.7" fill="none" stroke="#151515" stroke-width="1.5"/>
<line x1="652" y1="529.5" x2="731" y2="529.5" stroke="#151515" stroke-width="1.2"/>
<path d="M608.4,537.2 L610.4,533.5 Q612.4,531 617.4,531 L630.6,531 Q635.6,531 637.6,533.5 L639.6,537.2 Z" fill="none" stroke="#151515" stroke-width="1.6"/>
<line x1="616" y1="529.5" x2="632" y2="529.5" stroke="#151515" stroke-width="1.8"/>
<path d="M770.5,537.2 L772.5,533.5 Q774.5,531 779.5,531 L791.5,531 Q796.5,531 798.5,533.5 L800.5,537.2 Z" fill="none" stroke="#151515" stroke-width="1.6"/>
<line x1="778" y1="529.5" x2="793" y2="529.5" stroke="#151515" stroke-width="1.8"/>
<line x1="786" y1="215" x2="800" y2="215" stroke="#151515" stroke-width="1.6"/>
<line x1="786" y1="226" x2="800" y2="226" stroke="#151515" stroke-width="1.6"/>
<line x1="800" y1="215" x2="800" y2="226" stroke="#151515" stroke-width="1.2"/>
<path d="M800,215 Q806,215 806.5,209" fill="none" stroke="#151515" stroke-width="1.5"/>
<path d="M800,226 Q806,226 806.5,232" fill="none" stroke="#151515" stroke-width="1.5"/>
<path d="M806.5,206 L809.5,206 L810,210 L810,232 L809.5,235.5 L806.5,235.5 Z" fill="#fefefe" stroke="#151515" stroke-width="1.5"/>
<line x1="778" y1="221" x2="814" y2="221" stroke="#151515" stroke-width="1.4" stroke-dasharray="6,3"/>
<line x1="817" y1="221" x2="861" y2="221" stroke="#151515" stroke-width="1.5"/>
<line x1="855.6" y1="221" x2="855.6" y2="526" stroke="#151515" stroke-width="1.6"/>
<path d="M855.6,221.5 L857.3,230.5 L853.9,230.5 Z" fill="#151515" stroke="#151515" stroke-width="0.6"/>
<path d="M855.6,525.5 L853.9,516.5 L857.3,516.5 Z" fill="#151515" stroke="#151515" stroke-width="0.6"/>
<line x1="808" y1="526" x2="862" y2="526" stroke="#151515" stroke-width="1.6"/>
<text transform="translate(853,390) rotate(-90)" x="0" y="0" font-family='"Liberation Sans", sans-serif' font-size="22.3" fill="#1e1e1e" stroke="#fefefe" stroke-width="0.3" textLength="33" lengthAdjust="spacingAndGlyphs">740</text>
<text x="480.8" y="584" font-family='"Liberation Serif", serif' font-size="48.5" fill="#1d2d6b" textLength="73.3" lengthAdjust="spacingAndGlyphs">120</text>
<text x="566.8" y="584" font-family='"Liberation Serif", serif' font-size="48.5" fill="#1d2d6b" textLength="98.2" lengthAdjust="spacingAndGlyphs">Liter</text>
<rect x="93.7" y="604" width="365.8" height="377" fill="none" stroke="#151515" stroke-width="1.7"/>
<line x1="94" y1="605" x2="459.5" y2="660.5" stroke="#151515" stroke-width="1.8"/>
<line x1="93.7" y1="661" x2="459.5" y2="661" stroke="#151515" stroke-width="1.7"/>
<line x1="189" y1="661" x2="189" y2="981" stroke="#151515" stroke-width="1.7"/>
<line x1="93.7" y1="690" x2="459.5" y2="690" stroke="#151515" stroke-width="1.7"/>
<line x1="93.7" y1="717.8" x2="459.5" y2="717.8" stroke="#151515" stroke-width="1.7"/>
<line x1="93.7" y1="747.6" x2="459.5" y2="747.6" stroke="#151515" stroke-width="1.7"/>
<line x1="93.7" y1="776.2" x2="459.5" y2="776.2" stroke="#151515" stroke-width="1.7"/>
<line x1="93.7" y1="804.7" x2="459.5" y2="804.7" stroke="#151515" stroke-width="1.7"/>
<line x1="93.7" y1="833.9" x2="459.5" y2="833.9" stroke="#151515" stroke-width="1.7"/>
<line x1="93.7" y1="862.8" x2="459.5" y2="862.8" stroke="#151515" stroke-width="1.7"/>
<line x1="93.7" y1="923" x2="459.5" y2="923" stroke="#151515" stroke-width="1.7"/>
<line x1="93.7" y1="951.9" x2="459.5" y2="951.9" stroke="#151515" stroke-width="1.7"/>
<text x="403" y="627" font-family='"Liberation Serif", serif' font-size="22.7" font-weight="normal" fill="#1e1e1e" textLength="44" lengthAdjust="spacingAndGlyphs">TYP</text>
<text x="106" y="653.9" font-family='"Liberation Serif", serif' font-size="22.5" font-weight="normal" fill="#1e1e1e" textLength="62.4" lengthAdjust="spacingAndGlyphs">Größe</text>
<text x="106" y="682" font-family='"Liberation Serif", serif' font-size="23.9" font-weight="bold" fill="#1e1e1e" textLength="38" lengthAdjust="spacingAndGlyphs">CW</text>
<text x="202.5" y="682" font-family='"Liberation Serif", serif' font-size="22.1" font-weight="normal" fill="#1e1e1e" textLength="214.3" lengthAdjust="spacingAndGlyphs">Warmes Brauchwasser</text>
<text x="106" y="711.5" font-family='"Liberation Serif", serif' font-size="23.9" font-weight="bold" fill="#1e1e1e" textLength="38" lengthAdjust="spacingAndGlyphs">ZW</text>
<text x="202.5" y="711.5" font-family='"Liberation Serif", serif' font-size="22.1" font-weight="normal" fill="#1e1e1e" textLength="102.3" lengthAdjust="spacingAndGlyphs">Kaltwasser</text>
<text x="106" y="740.2" font-family='"Liberation Serif", serif' font-size="23.9" font-weight="bold" fill="#1e1e1e" textLength="38" lengthAdjust="spacingAndGlyphs">WE</text>
<text x="202.5" y="740.2" font-family='"Liberation Serif", serif' font-size="22.1" font-weight="normal" fill="#1e1e1e" textLength="242.5" lengthAdjust="spacingAndGlyphs">Wärmetauscher-Rücklauf</text>
<text x="106" y="768.2" font-family='"Liberation Serif", serif' font-size="23.9" font-weight="bold" fill="#1e1e1e" textLength="37.4" lengthAdjust="spacingAndGlyphs">WY</text>
<text x="202.5" y="768.2" font-family='"Liberation Serif", serif' font-size="22.1" font-weight="normal" fill="#1e1e1e" textLength="231.9" lengthAdjust="spacingAndGlyphs">Wärmetauscher-Vorlauf</text>
<text x="106" y="797.3" font-family='"Liberation Serif", serif' font-size="23.9" font-weight="bold" fill="#1e1e1e" textLength="33" lengthAdjust="spacingAndGlyphs">RC</text>
<text x="202.5" y="797.3" font-family='"Liberation Serif", serif' font-size="22.1" font-weight="normal" fill="#1e1e1e" textLength="106.3" lengthAdjust="spacingAndGlyphs">Zirkulation</text>
<text x="106" y="826.5" font-family='"Liberation Serif", serif' font-size="23.9" font-weight="bold" fill="#1e1e1e" textLength="34.2" lengthAdjust="spacingAndGlyphs">RK</text>
<text x="202.5" y="826.5" font-family='"Liberation Serif", serif' font-size="22.1" font-weight="normal" fill="#1e1e1e" textLength="235.9" lengthAdjust="spacingAndGlyphs">Temp.Sensor-Tauchrohr</text>
<text x="106" y="855.3" font-family='"Liberation Serif", serif' font-size="23.9" font-weight="bold" fill="#1e1e1e" textLength="28" lengthAdjust="spacingAndGlyphs">ZS</text>
<text x="202.5" y="855.3" font-family='"Liberation Serif", serif' font-size="22.1" font-weight="normal" fill="#1e1e1e" textLength="141.5" lengthAdjust="spacingAndGlyphs">Ablass-Stutzen</text>
<text x="106" y="901.2" font-family='"Liberation Serif", serif' font-size="23.9" font-weight="bold" fill="#1e1e1e" textLength="35.5" lengthAdjust="spacingAndGlyphs">AN</text>
<text x="202.5" y="901.2" font-family='"Liberation Serif", serif' font-size="22.1" font-weight="normal" fill="#1e1e1e" textLength="115.9" lengthAdjust="spacingAndGlyphs">Opferanode</text>
<text x="106" y="945" font-family='"Liberation Serif", serif' font-size="23.9" font-weight="bold" fill="#1e1e1e" textLength="33" lengthAdjust="spacingAndGlyphs">RT</text>
<text x="202.5" y="945" font-family='"Liberation Serif", serif' font-size="22.1" font-weight="normal" fill="#1e1e1e" textLength="132.1" lengthAdjust="spacingAndGlyphs">Thermometer</text>
<text x="106" y="972.8" font-family='"Liberation Serif", serif' font-size="23.9" font-weight="bold" fill="#1e1e1e" textLength="39.9" lengthAdjust="spacingAndGlyphs">MG</text>
<text x="202.5" y="972.8" font-family='"Liberation Serif", serif' font-size="22.1" font-weight="normal" fill="#1e1e1e" textLength="175.3" lengthAdjust="spacingAndGlyphs">Heizstab - Stutzen</text>
<circle cx="783.2" cy="804" r="142" fill="none" stroke="#151515" stroke-width="1.9"/>
<circle cx="784" cy="803.7" r="49.3" fill="none" stroke="#151515" stroke-width="1.9"/>
<circle cx="783.6" cy="713" r="12.5" fill="none" stroke="#151515" stroke-width="1.8"/>
<circle cx="783.6" cy="713" r="7" fill="none" stroke="#151515" stroke-width="2.6"/>
<circle cx="746" cy="723" r="12.5" fill="none" stroke="#151515" stroke-width="1.8"/>
<circle cx="746" cy="723" r="7" fill="none" stroke="#151515" stroke-width="2.6"/>
<circle cx="821.6" cy="723" r="12.5" fill="none" stroke="#151515" stroke-width="1.8"/>
<circle cx="821.6" cy="723" r="7" fill="none" stroke="#151515" stroke-width="2.6"/>
<circle cx="710.4" cy="751.5" r="12.5" fill="none" stroke="#151515" stroke-width="1.8"/>
<circle cx="710.4" cy="751.5" r="7" fill="none" stroke="#151515" stroke-width="2.6"/>
<circle cx="859" cy="752.5" r="12.5" fill="none" stroke="#151515" stroke-width="1.8"/>
<circle cx="859" cy="752.5" r="7" fill="none" stroke="#151515" stroke-width="2.6"/>
<line x1="710.4" y1="617" x2="710.4" y2="739" stroke="#151515" stroke-width="1.6"/>
<line x1="859" y1="617" x2="859" y2="740" stroke="#151515" stroke-width="1.6"/>
<line x1="710.4" y1="621" x2="859" y2="621" stroke="#151515" stroke-width="1.6"/>
<path d="M710.9,621 L721.9,619.3 L721.9,622.7 Z" fill="#151515" stroke="#151515" stroke-width="0.6"/>
<path d="M858.5,621 L847.5,622.7 L847.5,619.3 Z" fill="#151515" stroke="#151515" stroke-width="0.6"/>
<line x1="746" y1="644" x2="746" y2="710.5" stroke="#151515" stroke-width="1.6"/>
<line x1="821.6" y1="644" x2="821.6" y2="710.5" stroke="#151515" stroke-width="1.6"/>
<line x1="746" y1="648.6" x2="821.6" y2="648.6" stroke="#151515" stroke-width="1.6"/>
<path d="M746.5,648.6 L757.5,646.9 L757.5,650.3 Z" fill="#151515" stroke="#151515" stroke-width="0.6"/>
<path d="M821.1,648.6 L810.1,650.3 L810.1,646.9 Z" fill="#151515" stroke="#151515" stroke-width="0.6"/>
<text x="767.7" y="617.8" font-family='"Liberation Sans", sans-serif' font-size="22.1" font-weight="normal" fill="#1e1e1e" textLength="40.3" lengthAdjust="spacingAndGlyphs" stroke="#fefefe" stroke-width="0.3">296</text>
<text x="768.6" y="645" font-family='"Liberation Sans", sans-serif' font-size="23.2" font-weight="normal" fill="#1e1e1e" textLength="38" lengthAdjust="spacingAndGlyphs" stroke="#fefefe" stroke-width="0.3">150</text>
<line x1="553.6" y1="712.4" x2="771" y2="712.4" stroke="#151515" stroke-width="1.6"/>
<line x1="558.4" y1="712.4" x2="558.4" y2="803.6" stroke="#151515" stroke-width="1.6"/>
<path d="M558.4,712.9 L560.1,721.9 L556.7,721.9 Z" fill="#151515" stroke="#151515" stroke-width="0.6"/>
<path d="M558.4,803.1 L556.7,794.1 L560.1,794.1 Z" fill="#151515" stroke="#151515" stroke-width="0.6"/>
<line x1="594.4" y1="723" x2="733.5" y2="723" stroke="#151515" stroke-width="1.6"/>
<line x1="599" y1="723" x2="599" y2="803.6" stroke="#151515" stroke-width="1.6"/>
<path d="M599,723.5 L600.7,732.5 L597.3,732.5 Z" fill="#151515" stroke="#151515" stroke-width="0.6"/>
<path d="M599,803.1 L597.3,794.1 L600.7,794.1 Z" fill="#151515" stroke="#151515" stroke-width="0.6"/>
<line x1="623" y1="752" x2="698" y2="752" stroke="#151515" stroke-width="1.6"/>
<line x1="723" y1="752" x2="846.5" y2="752" stroke="#151515" stroke-width="1.6"/>
<line x1="626.6" y1="752" x2="626.6" y2="803.6" stroke="#151515" stroke-width="1.6"/>
<path d="M626.6,752.5 L628.3,761.5 L624.9,761.5 Z" fill="#151515" stroke="#151515" stroke-width="0.6"/>
<path d="M626.6,803.1 L624.9,794.1 L628.3,794.1 Z" fill="#151515" stroke="#151515" stroke-width="0.6"/>
<line x1="553" y1="803.6" x2="734" y2="803.6" stroke="#151515" stroke-width="1.6"/>
<line x1="734" y1="803.6" x2="833" y2="803.6" stroke="#151515" stroke-width="1.5" stroke-dasharray="9,4"/>
<line x1="783" y1="753" x2="783" y2="853" stroke="#151515" stroke-width="1.5" stroke-dasharray="9,4"/>
<line x1="783" y1="853" x2="783" y2="975" stroke="#151515" stroke-width="1.5"/>
<text transform="translate(554.8,784.2) rotate(-90)" x="0" y="0" font-family='"Liberation Sans", sans-serif' font-size="24.6" fill="#1e1e1e" stroke="#fefefe" stroke-width="0.3" textLength="35.6" lengthAdjust="spacingAndGlyphs">180</text>
<text transform="translate(594,784.2) rotate(-90)" x="0" y="0" font-family='"Liberation Sans", sans-serif' font-size="23.5" fill="#1e1e1e" stroke="#fefefe" stroke-width="0.3" textLength="35.6" lengthAdjust="spacingAndGlyphs">160</text>
<text transform="translate(622.8,798.6) rotate(-90)" x="0" y="0" font-family='"Liberation Sans", sans-serif' font-size="24.6" fill="#1e1e1e" stroke="#fefefe" stroke-width="0.3" textLength="38" lengthAdjust="spacingAndGlyphs">100</text>
<text transform="translate(673.2,833) rotate(-90)" x="0" y="0" font-family='"Liberation Sans", sans-serif' font-size="23.5" fill="#1e1e1e" stroke="#fefefe" stroke-width="0.3" textLength="25.2" lengthAdjust="spacingAndGlyphs">60</text>
<line x1="677.5" y1="771.5" x2="677.5" y2="866" stroke="#151515" stroke-width="1.6"/>
<path d="M677.5,803.6 L675.8,794.6 L679.2,794.6 Z" fill="#151515" stroke="#151515" stroke-width="0.6"/>
<path d="M677.5,833.4 L679.2,842.4 L675.8,842.4 Z" fill="#151515" stroke="#151515" stroke-width="0.6"/>
<line x1="677.5" y1="833.4" x2="783" y2="833.4" stroke="#151515" stroke-width="1.6"/>
<circle cx="783" cy="834" r="3.5" fill="none" stroke="#151515" stroke-width="1.2"/>
<line x1="735.4" y1="873" x2="682.1" y2="949.2" stroke="#151515" stroke-width="1.4" stroke-dasharray="10,3.5"/>
<path d="M685.5,944.3 A170,170 0 0 0 769.7,974.5" fill="none" stroke="#151515" stroke-width="1.5" stroke-dasharray="10,3"/>
<path d="M685.5,944.3 L694.7,948.6 L692.7,951.4 Z" fill="#151515" stroke="#151515" stroke-width="0.6"/>
<text transform="translate(719,958) rotate(12)" font-family='"Liberation Sans", sans-serif' font-size="21" fill="#1e1e1e" stroke="#fefefe" stroke-width="0.3" textLength="36" lengthAdjust="spacingAndGlyphs">35°</text>
<rect x="768" y="944" width="34" height="5" fill="none" stroke="#151515" stroke-width="1.2"/>
<line x1="736.5" y1="805" x2="739" y2="811" stroke="#151515" stroke-width="1.2"/>
<line x1="825.5" y1="793" x2="827" y2="799" stroke="#151515" stroke-width="1.2"/>
</svg>
</body></html>
